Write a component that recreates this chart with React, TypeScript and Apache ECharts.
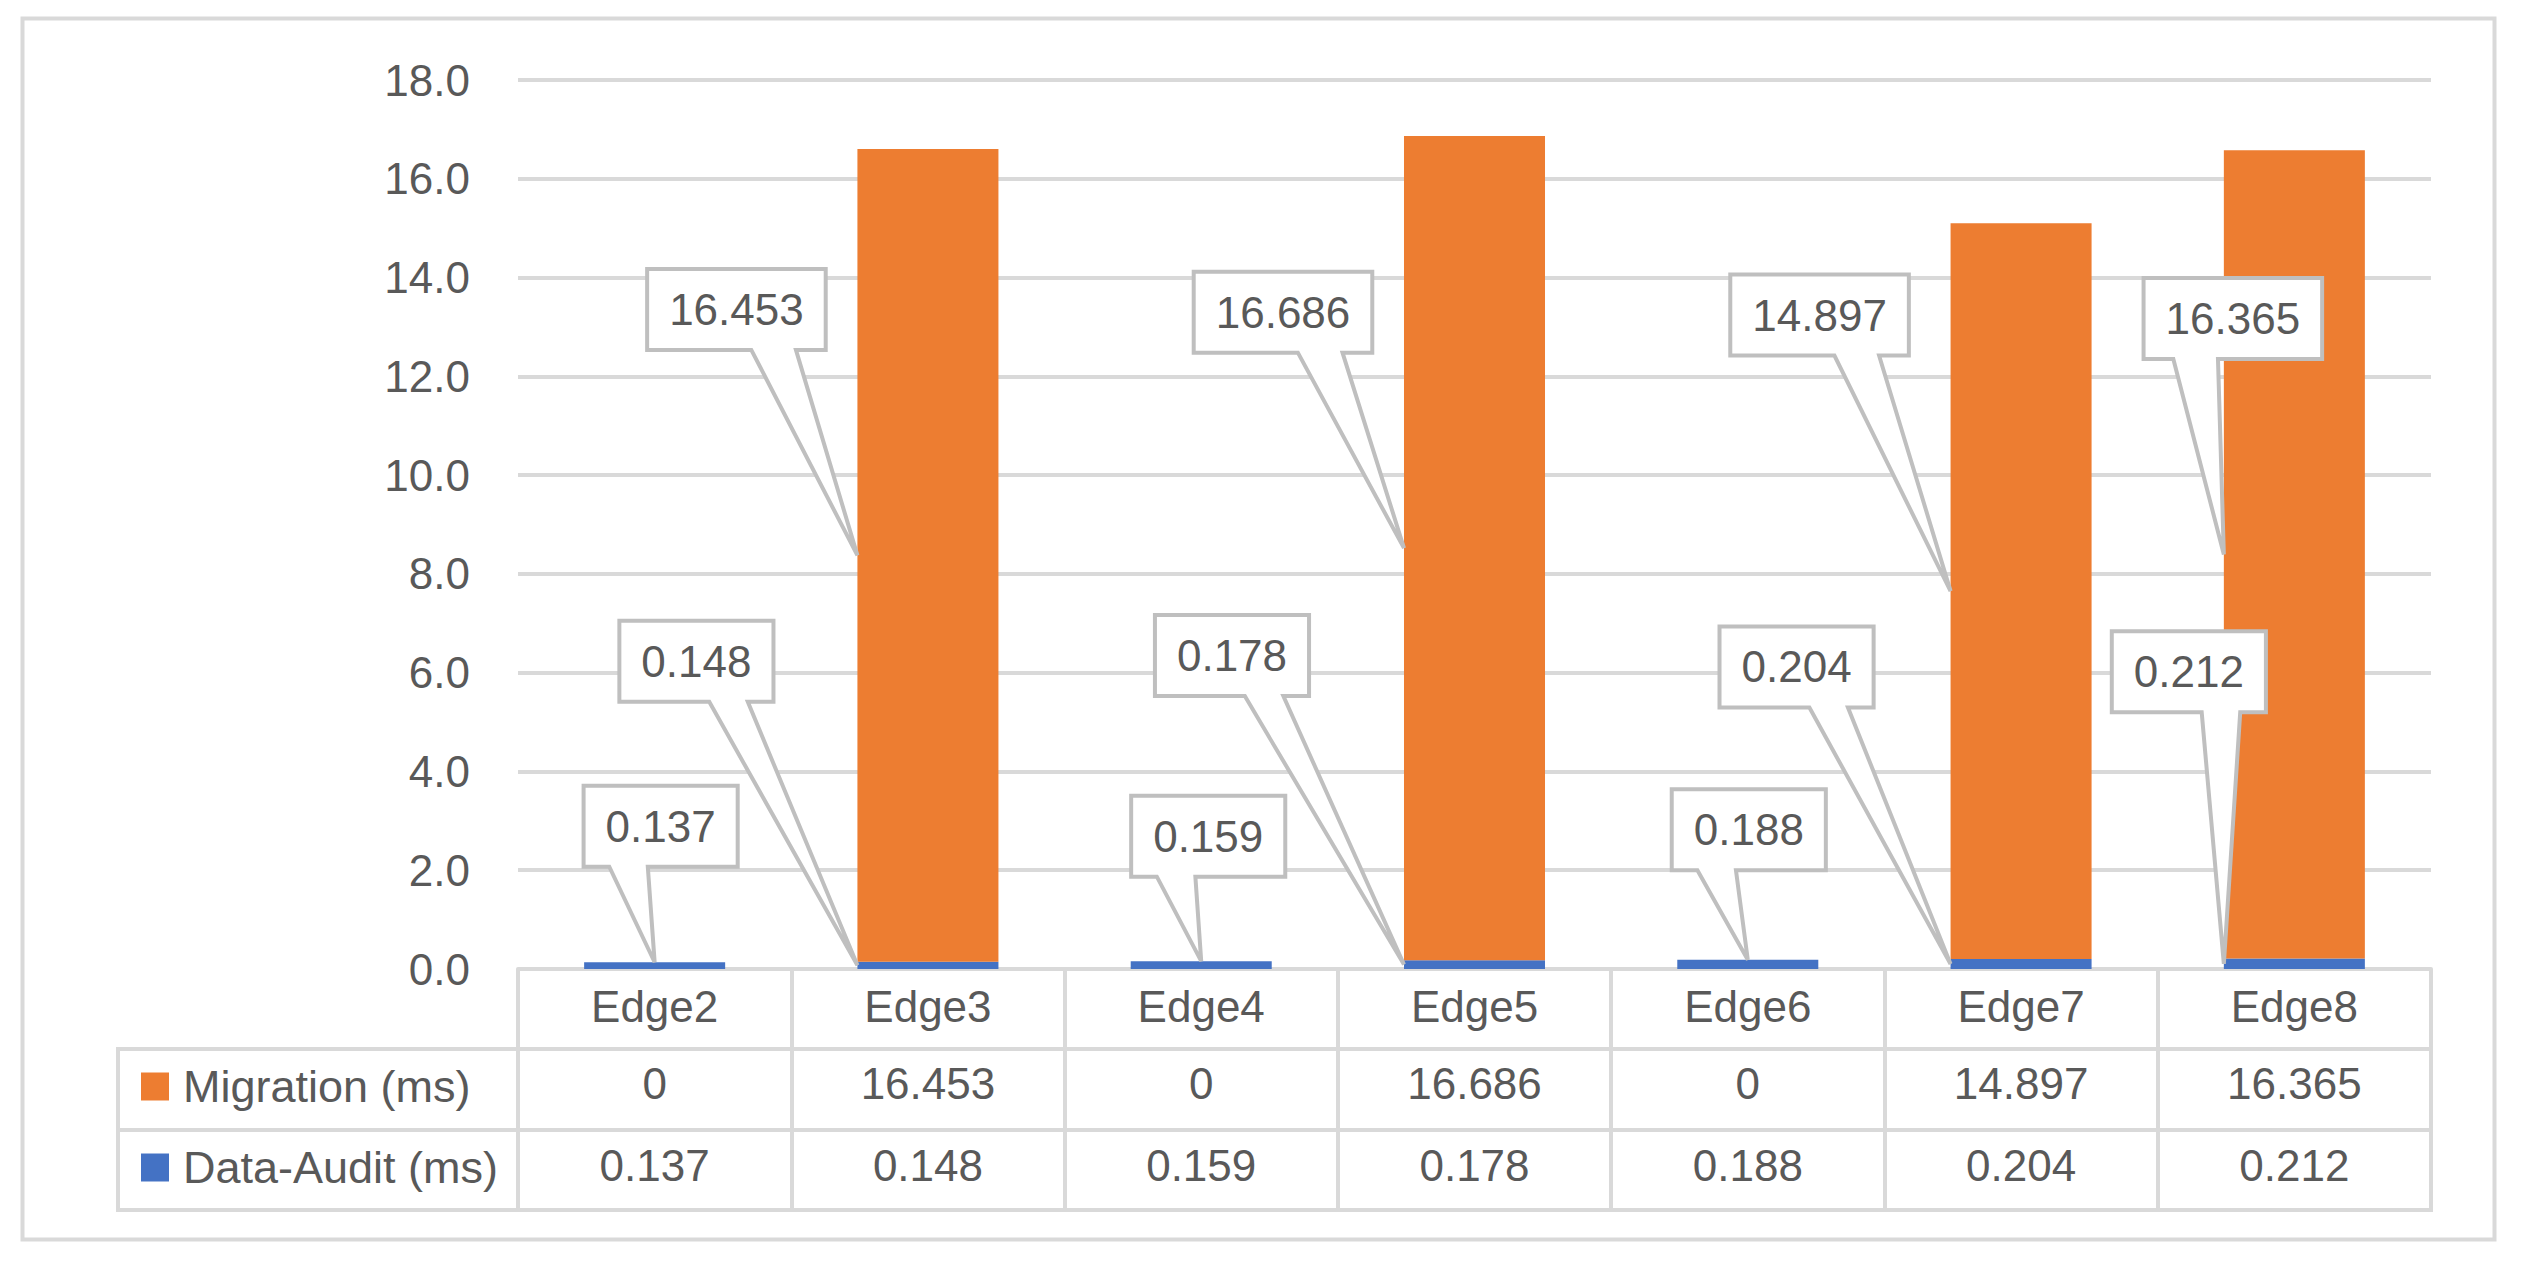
import React, { useEffect, useRef } from "react";
import * as echarts from "echarts";

const categories = ["Edge2", "Edge3", "Edge4", "Edge5", "Edge6", "Edge7", "Edge8"];
const migration = [0, 16.453, 0, 16.686, 0, 14.897, 16.365];
const dataAudit = [0.137, 0.148, 0.159, 0.178, 0.188, 0.204, 0.212];
const seriesNames = ["Migration (ms)", "Data-Audit (ms)"];
const yMin = 0;
const yMax = 18;
const yStep = 2;

// callout box centre offsets from the pointer tip (layout only)
const auditCallout: number[][] = [[6, -136], [-161, -304], [7, -125], [-172, -309], [1, -130], [-154, -297], [-35, -292]];
const migrationCallout: (number[] | null)[] = [null, [-121, -246], null, [-121, -236], null, [-131, -276], [9, -236]];

const FONT = "'Liberation Sans', Arial, sans-serif";
const FS = 44;
const TXT = "#595959";
const LINE = "#d9d9d9";
const BOX = "#bfbfbf";
const BAR_W = 0.516;

function measure(t: string) {
  const c = document.createElement("canvas").getContext("2d")!;
  c.font = `${FS}px ${FONT}`;
  return c.measureText(t).width;
}

export default function App() {
  const ref = useRef<HTMLDivElement>(null);
  useEffect(() => {
    const chart = echarts.init(ref.current!, undefined, { renderer: "svg" });
    const labelBase = { fontSize: FS, color: TXT, fontFamily: FONT };
    chart.setOption({
      animation: false,
      backgroundColor: "#ffffff",
      textStyle: { fontFamily: FONT },
      grid: { left: 518, right: 90, top: 80, bottom: 294, containLabel: false },
      legend: {
        data: seriesNames,
        orient: "vertical",
        left: 136,
        top: 1041,
        itemWidth: 28,
        itemHeight: 28,
        itemGap: 0,
        icon: "rect",
        selectedMode: false,
        textStyle: { ...labelBase, fontSize: 45, lineHeight: 81, padding: [0, 0, 0, 9] },
      },
      xAxis: [
        {
          type: "category",
          data: categories,
          axisLine: { show: true, lineStyle: { color: LINE, width: 4 } },
          axisTick: { show: true, length: 241, interval: 0, lineStyle: { color: LINE, width: 4 } },
          axisLabel: { ...labelBase, margin: 37, verticalAlign: "middle", interval: 0 },
        },
        {
          type: "category",
          data: categories,
          position: "bottom",
          offset: 81,
          axisLine: { show: false },
          axisTick: { show: false },
          axisLabel: { ...labelBase, margin: 33, verticalAlign: "middle", interval: 0, formatter: (_v: string, i: number) => String(migration[i]) },
        },
        {
          type: "category",
          data: categories,
          position: "bottom",
          offset: 162,
          axisLine: { show: false },
          axisTick: { show: false },
          axisLabel: { ...labelBase, margin: 34, verticalAlign: "middle", interval: 0, formatter: (_v: string, i: number) => String(dataAudit[i]) },
        },
      ],
      yAxis: {
        type: "value",
        min: yMin,
        max: yMax,
        interval: yStep,
        axisLine: { show: false },
        axisTick: { show: false },
        axisLabel: { ...labelBase, margin: 48, formatter: (v: number) => v.toFixed(1) },
        splitLine: { lineStyle: { color: LINE, width: 4 } },
      },
      series: [
        { name: seriesNames[1], type: "bar", stack: "total", xAxisIndex: 0, data: dataAudit, barWidth: `${BAR_W * 100}%`, itemStyle: { color: "#4472C4" } },
        { name: seriesNames[0], type: "bar", stack: "total", xAxisIndex: 0, data: migration, barWidth: `${BAR_W * 100}%`, itemStyle: { color: "#ED7D31" } },
      ],
    });

    const px = (i: number, v: number) => chart.convertToPixel({ gridIndex: 0 }, [i, v]) as number[];
    const catW = px(1, 0)[0] - px(0, 0)[0];
    const halfBar = (catW * BAR_W) / 2;
    const elements: any[] = [];

    // outer chart border
    elements.push({ type: "rect", z: 1, shape: { x: 22.5, y: 18.5, width: 2472, height: 1221 }, style: { fill: "none", stroke: LINE, lineWidth: 4 } });
    // data table lines (legend column + rows)
    const tr = px(categories.length - 1, 0)[0] + catW / 2;
    elements.push({ type: "rect", z: 1, shape: { x: 118, y: 1049, width: tr - 118, height: 161 }, style: { fill: "none", stroke: LINE, lineWidth: 4 } });
    elements.push({ type: "line", z: 1, shape: { x1: 118, y1: 1130, x2: tr, y2: 1130 }, style: { stroke: LINE, lineWidth: 4 } });

    const callout = (tip: number[], off: number[], text: string) => {
      const w = measure(text) + 44;
      const h = 81;
      const cx = tip[0] + off[0];
      const cy = tip[1] + off[1];
      const L = cx - w / 2, R = cx + w / 2, T = cy - h / 2, B = cy + h / 2;
      const right = tip[0] >= cx;
      const b1 = L + w * (right ? 7 : 2) / 12;
      const b2 = L + w * (right ? 10 : 5) / 12;
      elements.push({
        type: "polygon",
        z: 50,
        shape: { points: [[L, T], [R, T], [R, B], [b2, B], tip, [b1, B], [L, B]] },
        style: { fill: "#ffffff", stroke: BOX, lineWidth: 4, lineJoin: "miter" },
      });
      elements.push({
        type: "text",
        z: 51,
        x: cx,
        y: cy,
        style: { text, fontSize: FS, fontFamily: FONT, fill: TXT, align: "center", verticalAlign: "middle" },
      });
    };

    categories.forEach((_c, i) => {
      const base = px(i, 0);
      const aTop = px(i, dataAudit[i]);
      if (migration[i] > 0) {
        const mTop = px(i, dataAudit[i] + migration[i]);
        const left = base[0] - halfBar;
        const mOff = migrationCallout[i];
        if (mOff) callout([left, (aTop[1] + mTop[1]) / 2], mOff, String(migration[i]));
        callout([left, (base[1] + aTop[1]) / 2], auditCallout[i], String(dataAudit[i]));
      } else {
        callout([aTop[0], aTop[1]], auditCallout[i], String(dataAudit[i]));
      }
    });

    chart.setOption({ graphic: { elements } });
    return () => chart.dispose();
  }, []);
  return <div ref={ref} style={{ position: "fixed", left: 0, top: 0, width: 2521, height: 1263, background: "#fff" }} />;
}
